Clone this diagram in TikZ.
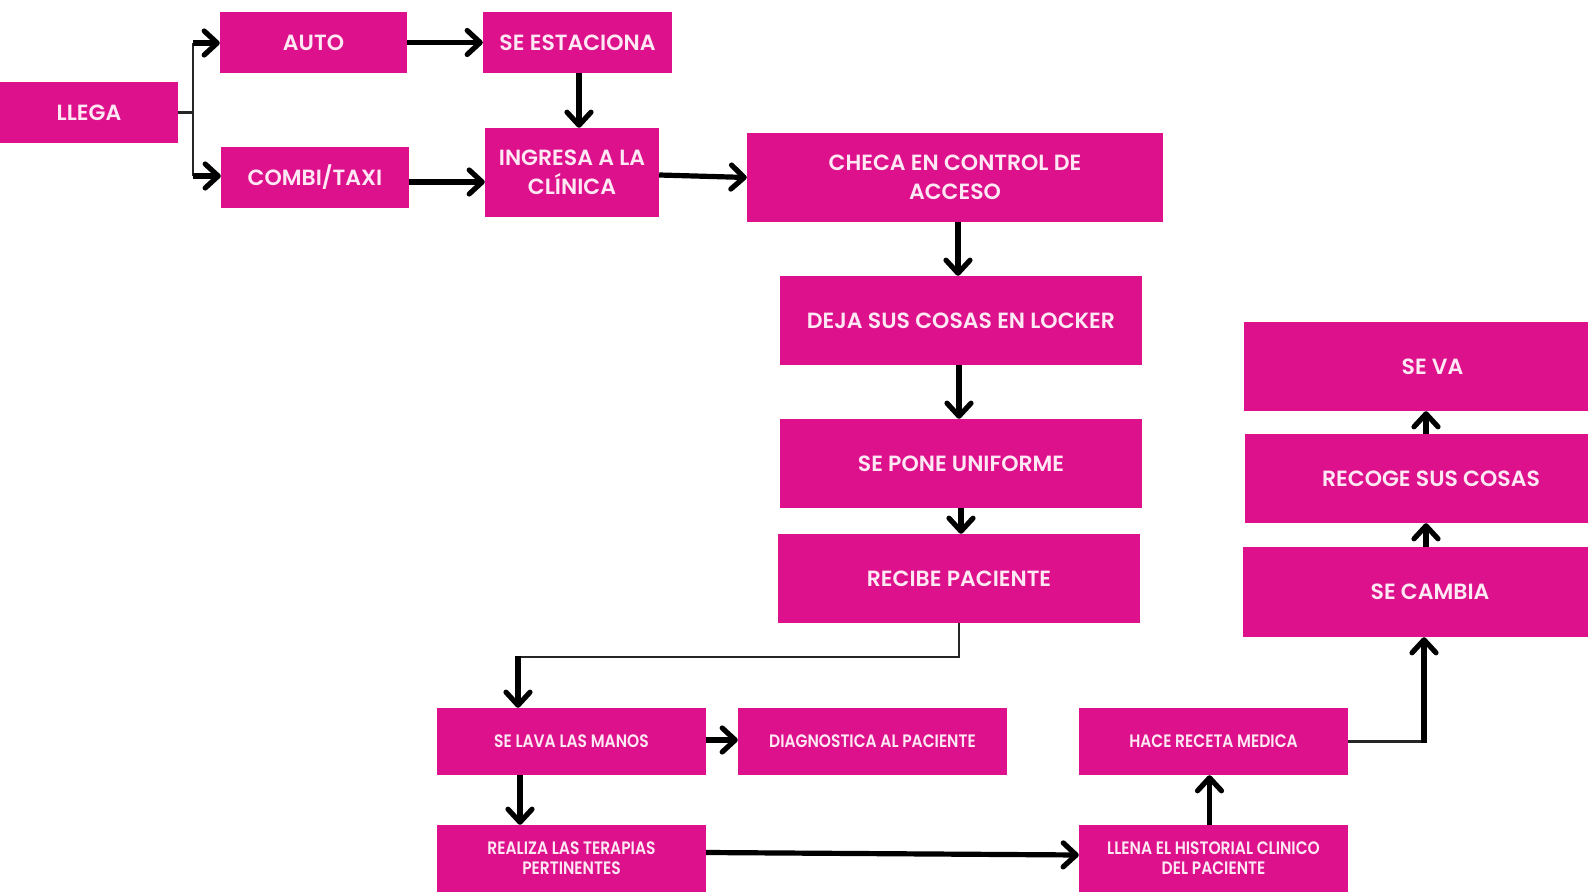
\documentclass[tikz,border=0pt]{standalone}
\usepackage{fontspec}
\setmainfont{Poppins}
\newfontfamily\topfont{Poppins SemiBold}
\newfontfamily\condfont{Poppins SemiBold}[FakeStretch=0.86]
\usetikzlibrary{arrows.meta,calc}
\definecolor{boxpink}{RGB}{222,17,141}
\definecolor{txtpink}{RGB}{253,232,244}
\tikzset{
  box/.style={fill=boxpink, draw=none, inner sep=0pt, align=center, text=txtpink,
    font=\topfont\fontsize{22}{29}\selectfont},
  sbox/.style={box, font=\condfont\fontsize{18}{20}\selectfont},
  arr/.style={line width=5.2pt, -{Straight Barb[length=13pt,width=24pt,round]}},
  thinl/.style={line width=2.8pt, draw=black!85},
}
\begin{document}
\begin{tikzpicture}[x=1pt,y=-1pt]
\clip (0,0) rectangle (1588,893);
\fill[white] (0,0) rectangle (1588,893);
% boxes
\node[box,minimum width=178,minimum height=61] (llega) at (89,112.5) {LLEGA};
\node[box,minimum width=187,minimum height=61] (auto) at (313.5,42.5) {AUTO};
\node[box,minimum width=189,minimum height=61] (seest) at (577.5,42.5) {SE ESTACIONA};
\node[box,minimum width=188,minimum height=61] (combi) at (315,177.5) {COMBI/TAXI};
\node[box,minimum width=174,minimum height=89] (ingresa) at (572,172.5) {INGRESA A LA\\CLÍNICA};
\node[box,minimum width=416,minimum height=89] (checa) at (955,177.5) {CHECA EN CONTROL DE\\ACCESO};
\node[box,minimum width=362,minimum height=89] (deja) at (961,320.5) {DEJA SUS COSAS EN LOCKER};
\node[box,minimum width=362,minimum height=89] (sepone) at (961,463.5) {SE PONE UNIFORME};
\node[box,minimum width=362,minimum height=89] (recibe) at (959,578.5) {RECIBE PACIENTE};
\node[sbox,minimum width=269,minimum height=67] (lava) at (571.5,741.5) {SE LAVA LAS MANOS};
\node[sbox,minimum width=269,minimum height=67] (diag) at (872.5,741.5) {DIAGNOSTICA AL PACIENTE};
\node[sbox,minimum width=269,minimum height=67] (realiza) at (571.5,858.5) {REALIZA LAS TERAPIAS\\PERTINENTES};
\node[sbox,minimum width=269,minimum height=67] (hace) at (1213.5,741.5) {HACE RECETA MEDICA};
\node[sbox,minimum width=269,minimum height=67] (llena) at (1213.5,858.5) {LLENA EL HISTORIAL CLINICO\\DEL PACIENTE};
\node[box,minimum width=374,minimum height=90] (secambia) at (1430,592) {SE CAMBIA};
\node[box,minimum width=372,minimum height=89] (recoge) at (1431,478.5) {RECOGE SUS COSAS};
\node[box,minimum width=377,minimum height=89] (seva) at (1432.5,366.5) {SE VA};
% coordinates
\coordinate (bt) at (193,43);
\coordinate (bb) at (193,176);
\coordinate (rl) at (518,657);
\coordinate (hc) at (1424,741.5);
\coordinate (rc) at (1426,0);
% connectors
\draw[thinl] (llega.east) -| (bt);
\draw[thinl] (bt) -- (bb);
\draw[arr] (bt) -- (bt -| auto.west);
\draw[arr] (bb) -- (bb -| combi.west);
\draw[arr] (auto.east) -- (seest.west);
\draw[arr] ([xshift=1.5pt]seest.south) -- ([xshift=1.5pt]seest.south |- ingresa.north);
\draw[arr] ([yshift=-4.5pt]combi.east) -- ([yshift=-4.5pt]combi.east -| ingresa.west);
\draw[arr] ([yshift=-2.5pt]ingresa.east) -- (checa.west);
\draw[arr] ([xshift=3pt]checa.south) -- ([xshift=3pt]checa.south |- deja.north);
\draw[arr] ([xshift=-2pt]deja.south) -- ([xshift=-2pt]sepone.north);
\draw[arr] (sepone.south) -- (sepone.south |- recibe.north);
\draw[thinl] (recibe.south) |- (rl);
\draw[arr] ([yshift=1.4pt]rl) -- (rl |- lava.north);
\draw[arr] ([yshift=1.5pt]lava.east) -- ([yshift=1.5pt]diag.west);
\draw[arr] ([xshift=2pt]rl |- lava.south) -- ([xshift=2pt]rl |- realiza.north);
\draw[arr] ([yshift=6pt]realiza.east) -- ([yshift=3.5pt]llena.west);
\draw[arr] ([xshift=-4pt]llena.north) -- ([xshift=-4pt]hace.south);
\draw[thinl] (hace.east) -- (hc);
\draw[arr] ([yshift=-1.4pt]hc) -- (hc |- secambia.south);
\draw[arr] (rc |- secambia.north) -- (rc |- recoge.south);
\draw[arr] (rc |- recoge.north) -- (rc |- seva.south);
\end{tikzpicture}
\end{document}
